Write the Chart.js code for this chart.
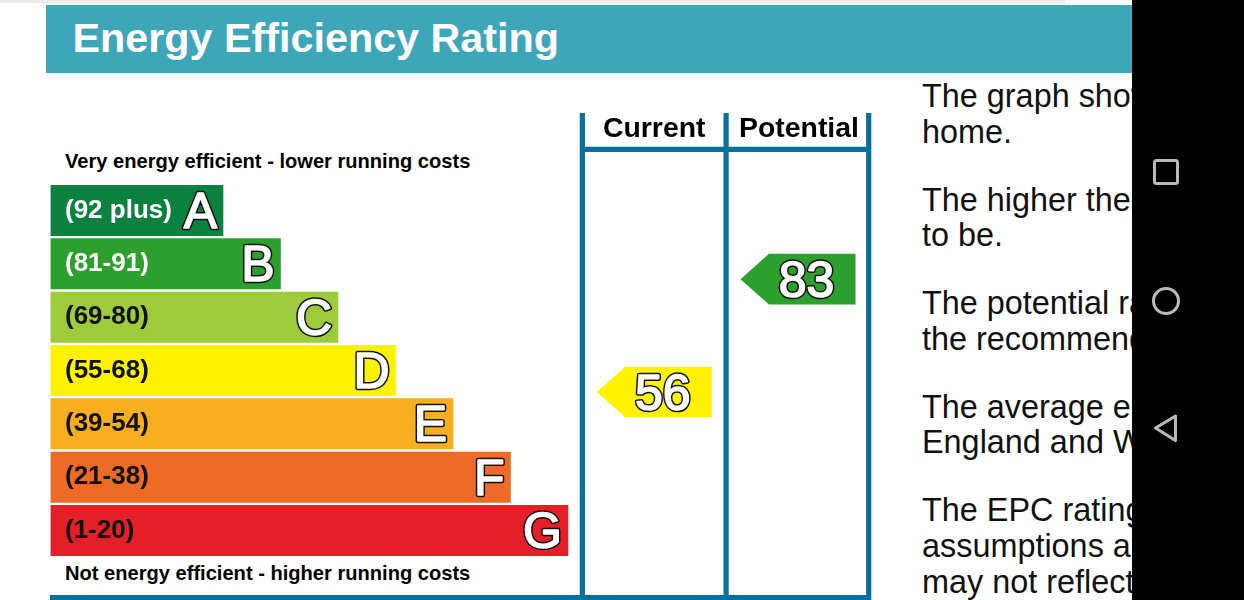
<!DOCTYPE html>
<html>
<head>
<meta charset="utf-8">
<title>Energy Efficiency Rating</title>
<script src="https://cdn.jsdelivr.net/npm/chart.js@4/dist/chart.umd.min.js"></script>
<style>
html,body{margin:0;padding:0;background:#fff;width:1244px;height:600px;overflow:hidden;font-family:"Liberation Sans",Arial,sans-serif;}
#topline{position:absolute;left:0;top:0;width:1065px;height:3px;background:#ececec;}
#band{position:absolute;left:46px;top:5px;width:1100px;height:68px;background:#3ea6b9;}
#band h1{margin:0;position:absolute;left:26.5px;top:9px;font-size:41.3px;line-height:48px;font-weight:bold;color:#fff;white-space:nowrap;}
#notes{position:absolute;left:922px;top:79px;width:320px;font-size:32.4px;line-height:35.7px;color:#111;white-space:nowrap;}
#notes p{margin:0 0 32.2px 0;}
.cap{position:absolute;left:65px;font-size:20.1px;line-height:24px;font-weight:bold;color:#000;white-space:nowrap;}
canvas{position:absolute;left:0;top:0;}
#nav{position:absolute;left:1132px;top:0;width:112px;height:600px;background:#000;}
#nav svg{position:absolute;left:0;top:0;}
</style>
</head>
<body>
<div id="topline"></div>
<div id="band"><h1>Energy Efficiency Rating</h1></div>
<div class="cap" style="top:149px">Very energy efficient - lower running costs</div>
<div class="cap" style="top:561px">Not energy efficient - higher running costs</div>
<div id="notes">
<p>The graph shows<br>home.</p>
<p>The higher the<br>to be.</p>
<p>The potential rating<br>the recommended</p>
<p>The average energy<br>England and Wales</p>
<p>The EPC rating<br>assumptions about<br>may not reflect</p>
</div>
<canvas id="c" width="1244" height="600"></canvas>
<div id="nav">
<svg width="112" height="600" fill="none" stroke="#b9b9b9" stroke-width="3">
<rect x="22.5" y="160.5" width="23" height="23" rx="2"/>
<circle cx="34" cy="301" r="12.5"/>
<path d="M23.5 428 L43.5 416 L43.5 440.5 Z" stroke-linejoin="round"/>
</svg>
</div>
<script>
const bandRanges = ["(92 plus)", "(81-91)", "(69-80)", "(55-68)", "(39-54)", "(21-38)", "(1-20)"];
const bandLetters = ["A", "B", "C", "D", "E", "F", "G"];
const bandLengths = [3, 4, 5, 6, 7, 8, 9];
const bandColors = ["#0b8140", "#2d9f2c", "#9dcb3b", "#fff200", "#f8ae1e", "#ee6b25", "#e51f27"];
const rangeTextColors = ["#fff", "#fff", "#111", "#111", "#111", "#111", "#111"];
const columnNames = ["Current", "Potential"];
const columnCentres = [10.5, 13];
const columnEdges = [9.25, 11.75, 14.23];
const ratings = [56, 83];
const ratingColors = ["#fff200", "#2d9f2c"];

const frameColor = "#08709e";
const outlined = (ctx, text, x, y, align, size) => {
  ctx.save();
  ctx.font = size + "px 'Liberation Sans'";
  ctx.textAlign = align;
  ctx.textBaseline = "alphabetic";
  ctx.lineJoin = "round";
  ctx.lineWidth = 4.6;
  ctx.strokeStyle = "#111";
  ctx.strokeText(text, x, y);
  ctx.fillStyle = "#fff";
  ctx.lineWidth = 1.6;
  ctx.strokeStyle = "#fff";
  ctx.strokeText(text, x, y);
  ctx.fillText(text, x, y);
  ctx.restore();
};

const decor = {
  id: "decor",
  afterDatasetsDraw(chart) {
    const ctx = chart.ctx, xs = chart.scales.x;
    // frame around the two rating columns
    ctx.save();
    ctx.strokeStyle = frameColor;
    ctx.lineWidth = 5.2;
    ctx.beginPath();
    columnEdges.forEach(v => {
      const px = xs.getPixelForValue(v);
      ctx.moveTo(px, 113);
      ctx.lineTo(px, 600);
    });
    ctx.moveTo(xs.getPixelForValue(columnEdges[0]), 149.4);
    ctx.lineTo(xs.getPixelForValue(columnEdges[2]), 149.4);
    ctx.moveTo(50, 597.5);
    ctx.lineTo(xs.getPixelForValue(columnEdges[2]) + 2.6, 597.5);
    ctx.stroke();
    // column headings
    ctx.fillStyle = "#000";
    ctx.font = "bold 28.4px 'Liberation Sans'";
    ctx.textAlign = "center";
    ctx.textBaseline = "alphabetic";
    columnNames.forEach((n, i) => ctx.fillText(n, xs.getPixelForValue(columnCentres[i]) + i, 137));
    ctx.restore();
    // band letters
    chart.getDatasetMeta(0).data.forEach((bar, i) => {
      outlined(ctx, bandLetters[i], bar.x - 6, bar.y + 17.5, "right", 50);
    });
    // rating arrows
    chart.getDatasetMeta(1).data.forEach((pt, i) => {
      const { x, y } = pt, l = x - 57.5, s = x - 29, r = x + 57.5, h = 25.3;
      ctx.save();
      ctx.fillStyle = ratingColors[i];
      ctx.beginPath();
      ctx.moveTo(l, y);
      ctx.lineTo(s, y - h);
      ctx.lineTo(r, y - h);
      ctx.lineTo(r, y + h);
      ctx.lineTo(s, y + h);
      ctx.closePath();
      ctx.fill();
      ctx.restore();
      outlined(ctx, String(ratings[i]), x + 8.5, y + 18, "center", 50);
    });
  }
};

new Chart(document.getElementById("c"), {
  data: {
    labels: bandRanges,
    datasets: [
      {
        type: "bar",
        indexAxis: "y",
        data: bandLengths,
        backgroundColor: bandColors,
        xAxisID: "x",
        yAxisID: "y",
        barThickness: 50.4,
        borderWidth: 0
      },
      {
        type: "scatter",
        data: ratings.map((r, i) => ({ x: columnCentres[i], y: r })),
        xAxisID: "x",
        yAxisID: "rating",
        pointRadius: 0,
        showLine: false
      }
    ]
  },
  options: {
    responsive: false,
    animation: false,
    layout: { padding: { left: 50.5, right: 373, top: 183.83, bottom: 42.83 } },
    plugins: { legend: { display: false }, tooltip: { enabled: false }, title: { display: false } },
    scales: {
      x: { type: "linear", axis: "x", min: 0, max: 14.27, display: false },
      y: {
        type: "category",
        axis: "y",
        offset: true,
        afterFit: scale => { scale.width = 0; },
        grid: { display: false },
        border: { display: false },
        ticks: {
          mirror: true,
          z: 1,
          padding: 14.5,
          autoSkip: false,
          color: ctx => rangeTextColors[ctx.index],
          font: { family: "'Liberation Sans'", size: 26, weight: "bold" }
        }
      },
      rating: { type: "linear", axis: "y", min: 16.46, max: 105.82, display: false }
    }
  },
  plugins: [decor]
});
</script>
</body>
</html>
